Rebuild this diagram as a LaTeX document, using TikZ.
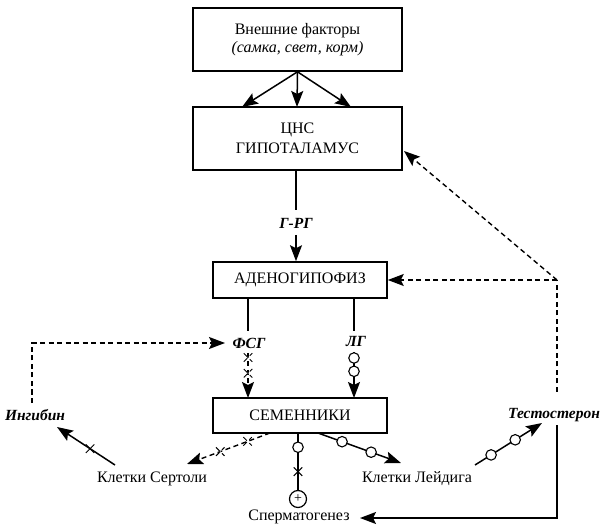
\documentclass[tikz,border=0pt]{standalone}
\usepackage{fontspec}
\setmainfont{Liberation Serif}
\usetikzlibrary{arrows.meta,shapes.misc}
\begin{document}
\begin{tikzpicture}[x=1pt,y=-1pt,
  box/.style={draw,line width=1.6pt,align=center,inner sep=0pt,font=\fontsize{16}{18.5}\selectfont},
  lbl/.style={font=\fontsize{15.5}{18}\selectfont\bfseries\itshape,inner sep=1.5pt},
  txt/.style={font=\fontsize{16}{18}\selectfont,inner sep=1pt},
  tip/.style={-{Stealth[length=16pt,width=12pt,inset=3pt]}},
  arr/.style={tip,line width=1.5pt},
  dsh/.style={dash pattern=on 5pt off 3.5pt,line width=1.4pt},
  xm/.style={cross out,draw,fill=white,minimum size=7.5pt,inner sep=0pt,line width=1pt},
  oc/.style={circle,draw,fill=white,minimum size=10.5pt,inner sep=0pt,line width=1.1pt},
  pc/.style={circle,draw,fill=white,minimum size=17pt,inner sep=0pt,line width=1.2pt,font=\fontsize{14}{14}\selectfont}
]
\useasboundingbox (0,0) rectangle (600,529);
% boxes
\node[box,minimum width=209pt,minimum height=63pt] (ext) at (297.5,39.5)
  {Внешние факторы\\\textit{(самка, свет, корм)}};
\node[box,minimum width=209pt,minimum height=63pt,font=\fontsize{16}{19.5}\selectfont] (cns) at (297.5,138.5)
  {ЦНС\\ГИПОТАЛАМУС};
\node[box,minimum width=174pt,minimum height=36pt] (adeno) at (300,280) {АДЕНОГИПОФИЗ};
\node[box,minimum width=174pt,minimum height=35pt] (test) at (300,415.5) {СЕМЕННИКИ};
% labels
\node[lbl] (grg) at (296,223) {Г-РГ};
\node[lbl] (fsg) at (249,343) {ФСГ};
\node[lbl] (lg) at (356,342) {ЛГ};
\node[lbl] (ing) at (35,415) {Ингибин};
\node[lbl] (testo) at (554,415) {Тестостерон};
\node[txt] (sert) at (152,479) {Клетки Сертоли};
\node[txt] (leyd) at (417,479) {Клетки Лейдига};
\node[txt] (sperm) at (299,517) {Сперматогенез};
\node[pc] (plus) at (298,499) {+};
% coordinates
\coordinate (e1) at (242,107);
\coordinate (e2) at (297,107);
\coordinate (e3) at (351,107);
\coordinate (grgtop) at (296,170);
\coordinate (fsgtop) at (248,298);
\coordinate (fsgbot) at (248,353);
\coordinate (fsgend) at (248,398);
\coordinate (lgtop) at (354,298);
\coordinate (lgbot) at (354,352);
\coordinate (lgend) at (354,398);
\coordinate (ingtop) at (32,403);
\coordinate (ingcorner) at (32,343);
\coordinate (fsgleft) at (225,343);
\coordinate (tcorner) at (557,280);
\coordinate (tlow) at (557,392);
\coordinate (cnsright) at (404,151);
\coordinate (tsolid) at (557,425);
\coordinate (tbend) at (557,518);
\coordinate (spermright) at (360,518);
\coordinate (sertA) at (270,433);
\coordinate (sertB) at (187,464);
\coordinate (leydA) at (318,433);
\coordinate (leydB) at (401,463);
\coordinate (leydC) at (475,465);
\coordinate (testoB) at (542,423);
\coordinate (sertC) at (115,465);
\coordinate (ingB) at (57,427);
\coordinate (spA) at (298,433);
% top arrows
\draw[arr] (ext.south) -- (e1);
\draw[arr] (ext.south) -- (e2);
\draw[arr] (ext.south) -- (e3);
% Г-РГ
\draw[line width=1.5pt] (grgtop) -- (296,210);
\draw[arr] (296,235) -- (adeno.north -| grg);
% FSG
\draw[line width=1.5pt] (fsgtop) -- (248,331);
\draw[dsh,tip] (fsgbot) -- node[pos=0.1,xm]{} node[pos=0.45,xm]{} (fsgend);
% LG
\draw[line width=1.5pt] (lgtop) -- (354,331);
\draw[arr] (lgbot) -- node[pos=0.13,oc]{} node[pos=0.42,oc]{} (lgend);
% inhibin feedback
\draw[dsh,tip] (ingtop) -- (ingcorner) -- (fsgleft);
% testosterone feedback
\draw[dsh] (tlow) -- (tcorner);
\draw[dsh,tip] (tcorner) -- (adeno.east);
\draw[dsh,tip] (tcorner) -- (cnsright);
\draw[arr] (tsolid) -- (tbend) -- (spermright);
% testes -> Sertoli
\draw[dsh,tip] (sertA) -- node[pos=0.27,xm]{} node[pos=0.6,xm]{} (sertB);
% Sertoli -> inhibin
\draw[arr] (sertC) -- node[pos=0.43,xm]{} (ingB);
% testes -> Leydig
\draw[arr] (leydA) -- node[pos=0.29,oc]{} node[pos=0.64,oc]{} (leydB);
% Leydig -> testosterone
\draw[arr] (leydC) -- node[pos=0.24,oc]{} node[pos=0.6,oc]{} (testoB);
% spermatogenesis
\draw[line width=1.5pt] (spA) -- node[pos=0.25,oc]{} node[pos=0.68,xm]{} (plus.north);
\end{tikzpicture}
\end{document}
